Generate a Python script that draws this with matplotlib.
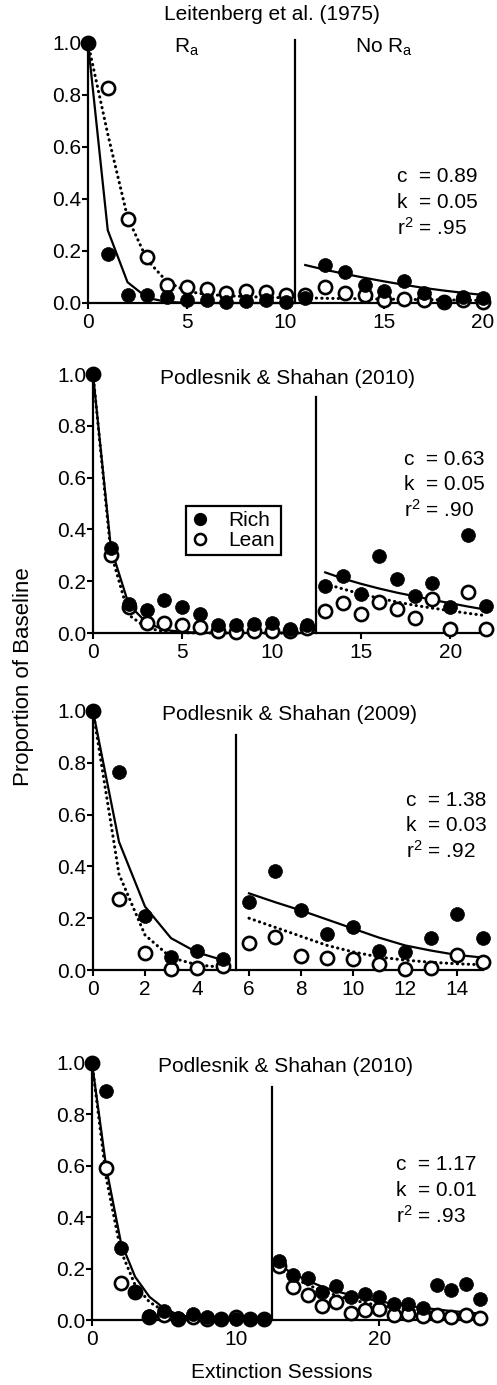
import matplotlib
matplotlib.use('Agg')
import matplotlib.pyplot as plt
from matplotlib.lines import Line2D

plt.rcParams['font.family'] = ['Liberation Sans', 'DejaVu Sans']
plt.rcParams['mathtext.fontset'] = 'custom'
plt.rcParams['mathtext.rm'] = 'Liberation Sans'
plt.rcParams['mathtext.it'] = 'Liberation Sans'
plt.rcParams['mathtext.bf'] = 'Liberation Sans:bold'

# ---------------- data ----------------
# Panel 1: Leitenberg et al. (1975)
sessions1 = list(range(0, 21))
rich1 = [1.00, 0.19, 0.03, 0.03, 0.025, 0.012, 0.01, 0.005, 0.008, 0.01, 0.005,
         0.02, 0.145, 0.12, 0.07, 0.045, 0.085, 0.04, 0.005, 0.025, 0.02]
lean1 = [1.00, 0.827, 0.324, 0.177, 0.068, 0.06, 0.054, 0.04, 0.045, 0.042, 0.03,
         0.03, 0.06, 0.04, 0.03, 0.01, 0.015, 0.01, 0.005, 0.01, 0.005]
fit1_sess_a = list(range(0, 11))
fit1_sess_b = list(range(11, 21))
fit1_rich_a = [1.0, 0.28, 0.08, 0.02, 0.004, 0.001, 0.0, 0.0, 0.0, 0.0, 0.0]
fit1_lean_a = [1.0, 0.65, 0.33, 0.165, 0.082, 0.045, 0.033, 0.028, 0.025, 0.022, 0.02]
fit1_rich_b = [0.146, 0.128, 0.112, 0.097, 0.083, 0.07, 0.058, 0.048, 0.039, 0.031]
fit1_lean_b = [0.02, 0.018, 0.017, 0.016, 0.015, 0.014, 0.013, 0.012, 0.011, 0.01]

# Panel 2: Podlesnik & Shahan (2010)
sessions2 = list(range(0, 23))
rich2 = [1.0, 0.328, 0.113, 0.09, 0.126, 0.099, 0.075, 0.032, 0.031, 0.035, 0.039, 0.015,
         0.032, 0.183, 0.221, 0.152, 0.296, 0.208, 0.142, 0.193, 0.10, 0.378, 0.105]
lean2 = [1.0, 0.30, 0.10, 0.039, 0.039, 0.032, 0.022, 0.006, 0.003, 0.006, 0.009, 0.006,
         0.02, 0.086, 0.116, 0.073, 0.118, 0.093, 0.058, 0.131, 0.017, 0.157, 0.017]
fit2_sess_a = list(range(0, 13))
fit2_sess_b = list(range(13, 23))
fit2_rich_a = [1.0, 0.33, 0.11, 0.04, 0.012, 0.004, 0.001, 0, 0, 0, 0, 0, 0]
fit2_lean_a = [1.0, 0.31, 0.07, 0.02, 0.005, 0.001, 0, 0, 0, 0, 0, 0, 0]
fit2_rich_b = [0.234, 0.21, 0.19, 0.172, 0.156, 0.142, 0.128, 0.115, 0.102, 0.09]
fit2_lean_b = [0.19, 0.17, 0.15, 0.135, 0.12, 0.107, 0.096, 0.086, 0.076, 0.067]

# Panel 3: Podlesnik & Shahan (2009)
sessions3 = list(range(0, 16))
rich3 = [1.0, 0.763, 0.208, 0.049, 0.073, 0.041, 0.261, 0.384, 0.232, 0.138, 0.165,
         0.073, 0.071, 0.125, 0.215, 0.125]
lean3 = [1.0, 0.274, 0.067, 0.003, 0.009, 0.015, 0.106, 0.129, 0.055, 0.045, 0.041,
         0.022, 0.003, 0.009, 0.058, 0.03]
fit3_sess_a = list(range(0, 6))
fit3_sess_b = list(range(6, 16))
fit3_rich_a = [1.0, 0.495, 0.245, 0.123, 0.068, 0.038]
fit3_lean_a = [1.0, 0.37, 0.135, 0.048, 0.02, 0.01]
fit3_rich_b = [0.296, 0.262, 0.23, 0.195, 0.16, 0.125, 0.095, 0.075, 0.058, 0.048]
fit3_lean_b = [0.20, 0.165, 0.13, 0.095, 0.07, 0.05, 0.038, 0.03, 0.024, 0.02]

# Panel 4: Podlesnik & Shahan (2010)
sessions4 = list(range(0, 28))
rich4 = [1.0, 0.89, 0.279, 0.11, 0.016, 0.035, 0.006, 0.023, 0.01, 0.005, 0.005, 0.004,
         0.004, 0.231, 0.175, 0.162, 0.11, 0.132, 0.088, 0.101, 0.088, 0.062, 0.062,
         0.048, 0.136, 0.117, 0.14, 0.08]
lean4 = [1.0, 0.59, 0.145, 0.11, 0.01, 0.02, 0.005, 0.01, 0.005, 0.003, 0.012, 0.003,
         0.003, 0.21, 0.127, 0.097, 0.055, 0.069, 0.029, 0.039, 0.042, 0.019, 0.023,
         0.016, 0.019, 0.013, 0.019, 0.006]
fit4_sess_a = list(range(0, 13))
fit4_sess_b = list(range(13, 28))
fit4_rich_a = [1.0, 0.59, 0.305, 0.168, 0.09, 0.046, 0.02, 0.01, 0.004, 0.002, 0.001, 0, 0]
fit4_lean_a = [1.0, 0.55, 0.27, 0.136, 0.07, 0.035, 0.014, 0.006, 0.002, 0.001, 0, 0, 0]
fit4_rich_b = [0.214, 0.18, 0.153, 0.13, 0.112, 0.097, 0.084, 0.073, 0.063, 0.055,
               0.048, 0.041, 0.035, 0.03, 0.025]
fit4_lean_b = [0.20, 0.165, 0.137, 0.114, 0.095, 0.08, 0.067, 0.056, 0.047, 0.04,
               0.033, 0.028, 0.024, 0.02, 0.017]

titles = ['Leitenberg et al. (1975)', 'Podlesnik & Shahan (2010)',
          'Podlesnik & Shahan (2009)', 'Podlesnik & Shahan (2010)']
stats = [('0.89', '0.05', '.95'), ('0.63', '0.05', '.90'),
         ('1.38', '0.03', '.92'), ('1.17', '0.01', '.93')]
xmax = [20, 22, 15, 27]
xticks = [[0, 5, 10, 15, 20], [0, 5, 10, 15, 20], [0, 2, 4, 6, 8, 10, 12, 14], [0, 10, 20]]
yticks = [0.0, 0.2, 0.4, 0.6, 0.8, 1.0]
ytick_labels = ['0.0', '0.2', '0.4', '0.6', '0.8', '1.0']
phase_break = [10.5, 12.5, 5.5, 12.5]
legend_labels = ['Rich', 'Lean']

# ---------------- layout (pixels) ----------------
W, H = 497, 1385
fig = plt.figure(figsize=(W / 100, H / 100), dpi=100)

def fx(x):
    return x / W

def fy(y):
    return 1 - y / H

# left, right, top(y of 1.0), bottom(y of 0.0)
axes_px = [(88, 483, 43, 303), (93, 486, 374, 633), (93, 483, 711, 970), (92, 480, 1063, 1320)]
title_px = [(272, 15), (287, 379), (289, 715), (285, 1067)]
stats_px = [(397, 177), (404, 459), (406, 800), (396, 1165)]
vline_top = [1.01, 0.91, 0.907, 0.906]
FS = 15

panels = [
    (sessions1, rich1, lean1, fit1_sess_a, fit1_sess_b, fit1_rich_a, fit1_lean_a, fit1_rich_b, fit1_lean_b),
    (sessions2, rich2, lean2, fit2_sess_a, fit2_sess_b, fit2_rich_a, fit2_lean_a, fit2_rich_b, fit2_lean_b),
    (sessions3, rich3, lean3, fit3_sess_a, fit3_sess_b, fit3_rich_a, fit3_lean_a, fit3_rich_b, fit3_lean_b),
    (sessions4, rich4, lean4, fit4_sess_a, fit4_sess_b, fit4_rich_a, fit4_lean_a, fit4_rich_b, fit4_lean_b),
]

dotted = (0, (0.1, 1.7))
for i, (sess, rich, lean, sa, sb, ra, la, rb, lb) in enumerate(panels):
    l, r, t, b = axes_px[i]
    ax = fig.add_axes([fx(l), fy(b), (r - l) / W, (b - t) / H])
    ax.set_xlim(0, xmax[i])
    ax.set_ylim(0, 1.0)
    for s in ['top', 'right']:
        ax.spines[s].set_visible(False)
    for s in ['left', 'bottom']:
        ax.spines[s].set_linewidth(1.6)
    ax.set_xticks(xticks[i])
    ax.set_yticks(yticks)
    ax.set_yticklabels(ytick_labels)
    ax.tick_params(axis='both', direction='out', length=4, width=1.5, labelsize=FS,
                   colors='black')
    ax.tick_params(axis='y', pad=1)
    ax.tick_params(axis='x', pad=3)

    # fitted lines
    ax.plot(sa, ra, color='black', lw=1.6, zorder=2, clip_on=False)
    ax.plot(sb, rb, color='black', lw=1.6, zorder=2, clip_on=False)
    ax.plot(sa, la, color='black', lw=2.2, ls=dotted, dash_capstyle='round', zorder=2, clip_on=False)
    ax.plot(sb, lb, color='black', lw=2.2, ls=dotted, dash_capstyle='round', zorder=2, clip_on=False)

    # data
    ax.plot(sess, lean, 'o', ms=9.5, mfc='white', mec='black', mew=1.9, zorder=3, clip_on=False)
    ax.plot(sess, rich, 'o', ms=10, mfc='black', mec='black', mew=0.5, zorder=4, clip_on=False)

    # phase separator
    ax.plot([phase_break[i], phase_break[i]], [0, vline_top[i]], color='black', lw=1.6,
            clip_on=False, zorder=1)

    # title
    tx, ty = title_px[i]
    fig.text(fx(tx), fy(ty), titles[i], ha='center', va='center', fontsize=FS)

    # stats
    sx, sy = stats_px[i]
    c, k, r2 = stats[i]
    fig.text(fx(sx), fy(sy), 'c  = ' + c, ha='left', va='center', fontsize=FS)
    fig.text(fx(sx), fy(sy + 25.5), 'k  = ' + k, ha='left', va='center', fontsize=FS)
    fig.text(fx(sx), fy(sy + 51), r'r$^\mathregular{2}$ = ' + r2, ha='left', va='center', fontsize=FS)

    if i == 0:
        ax.text(5, 0.985, r'R$_\mathregular{a}$', ha='center', va='center', fontsize=FS)
        ax.text(15, 0.985, r'No R$_\mathregular{a}$', ha='center', va='center', fontsize=FS)
    if i == 1:
        handles = [Line2D([], [], ls='none', marker='o', ms=8.5, mfc='black', mec='black'),
                   Line2D([], [], ls='none', marker='o', ms=8, mfc='white', mec='black', mew=1.8)]
        leg = ax.legend(handles, legend_labels, loc='upper left',
                        bbox_to_anchor=(fx(186), fy(506)), bbox_transform=fig.transFigure,
                        borderaxespad=0, fancybox=False, framealpha=1, edgecolor='black',
                        fontsize=FS, handlelength=0.8, handletextpad=1.0,
                        labelspacing=0.05, borderpad=0.25)
        leg.get_frame().set_linewidth(1.6)

fig.text(fx(24), fy(677), 'Proportion of Baseline', rotation=90, ha='center', va='center',
         fontsize=16)
fig.text(fx(282), fy(1373), 'Extinction Sessions', ha='center', va='center', fontsize=FS)

fig.savefig('out.png', dpi=100, facecolor='white')
